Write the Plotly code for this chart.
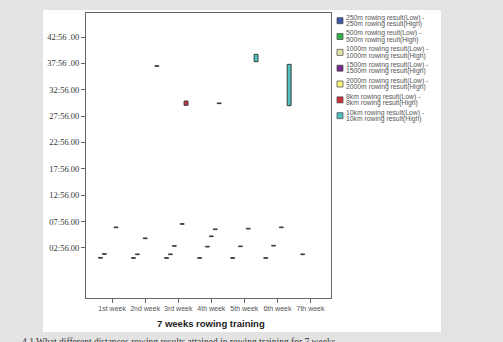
import plotly.graph_objects as go

W, H = 503, 342

weeks = ["1st week", "2nd week", "3rd week", "4th week", "5th week", "6th week", "7th week"]

series_names = ["250m", "500m", "1000m", "1500m", "2000m", "8km", "10km"]
legend_line1 = ["250m rowing result(Low) -", "500m rowing reult(Low) -", "1000m rowing result(Low) -",
                "1500m rowing result(Low) -", "2000m rowing result(Low) -", "8km rowing result(Low) -",
                "10km rowing result(Low) -"]
legend_line2 = ["250m rowing result(High)", "500m rowing reult(High)", "1000m rowing result(High)",
                "1500m rowing result(High)", "2000m rowing result(High)", "8km rowing result(High)",
                "10km rowing result(High)"]
colors = ["#3b58a8", "#2fb34a", "#e0e4a8", "#7a2a8c", "#f4f47a", "#c8323a", "#4fc2c2"]

# values in seconds (low / high) per week; None = not rowed that week
low_250 = [60, 58, 58, 58, 58, 58, None]
high_250 = [68, 66, 66, 66, 66, 66, None]
low_500 = [104, 100, 100, None, None, None, 100]
high_500 = [112, 108, 108, None, None, None, 108]
low_1000 = [None, None, 195, 187, 191, 198, None]
high_1000 = [None, None, 203, 195, 199, 206, None]
low_1500 = [None, 282, None, 305, None, None, None]
high_1500 = [None, 290, None, 313, None, None, None]
low_2000 = [407, None, 445, 385, 392, 407, None]
high_2000 = [415, None, 453, 393, 400, 415, None]
low_8k = [None, None, 1799, 1818, None, None, None]
high_8k = [None, None, 1848, 1826, None, None, None]
low_10k = [None, 2242, None, None, 2295, 1795, None]
high_10k = [None, 2250, None, None, 2379, 2265, None]

lows = [low_250, low_500, low_1000, low_1500, low_2000, low_8k, low_10k]
highs = [high_250, high_500, high_1000, high_1500, high_2000, high_8k, high_10k]

y_tickvals = [176, 476, 776, 1076, 1376, 1676, 1976, 2276, 2576]
y_ticktext = ["02:56.00", "07:56.00", "12:56.00", "17:56.00", "22:56.00",
              "27:56.00", "32:56.00", "37:56 .00", "42:56 .00"]

def px(x):
    return x / W

def py(y):
    return 1 - y / H

fig = go.Figure()
for name, lo, hi, col in zip(series_names, lows, highs, colors):
    heights = [None if (a is None or b is None) else b - a for a, b in zip(lo, hi)]
    fig.add_trace(go.Bar(
        x=weeks, y=heights, base=lo, name=name,
        marker=dict(color=col, line=dict(color="#3a3a3a", width=1)),
        showlegend=False,
    ))

shapes = [
    dict(type="rect", xref="paper", yref="paper", x0=px(43), x1=px(441), y0=py(332), y1=py(10),
         fillcolor="white", line=dict(width=0), layer="below"),
]
annotations = []
cy0, dy = 20.7, 15.83
for i, col in enumerate(colors):
    cy = cy0 + i * dy
    shapes.append(dict(type="rect", xref="paper", yref="paper",
                       x0=px(337), x1=px(343), y0=py(cy + 3), y1=py(cy - 3),
                       fillcolor=col, line=dict(color="#444", width=0.7)))
    annotations.append(dict(xref="paper", yref="paper", x=px(344), y=py(cy - 3.1),
                            xanchor="left", yanchor="middle", showarrow=False,
                            text=legend_line1[i],
                            font=dict(family="Liberation Sans, Arial", size=6.8, color="#555")))
    annotations.append(dict(xref="paper", yref="paper", x=px(344), y=py(cy + 3.3),
                            xanchor="left", yanchor="middle", showarrow=False,
                            text=legend_line2[i],
                            font=dict(family="Liberation Sans, Arial", size=6.8, color="#555")))

annotations.append(dict(xref="paper", yref="paper", x=px(211), y=py(323),
                        xanchor="center", yanchor="middle", showarrow=False,
                        text="<b>7 weeks rowing training</b>",
                        font=dict(family="Liberation Sans, Arial", size=9.5, color="#222")))
annotations.append(dict(xref="paper", yref="paper", x=px(20), y=py(342),
                        xanchor="left", yanchor="middle", showarrow=False,
                        text="4.1 What different distances rowing results attained in rowing training for 7 weeks",
                        font=dict(family="Liberation Serif", size=9.5, color="#333")))

fig.update_layout(
    width=W, height=H,
    margin=dict(l=0, r=0, t=0, b=0),
    paper_bgcolor="#e3e3e3",
    plot_bgcolor="white",
    barmode="group",
    bargap=0.174,
    bargroupgap=0,
    shapes=shapes,
    annotations=annotations,
    xaxis=dict(
        domain=[px(86), px(331)],
        type="category",
        range=[-0.79, 6.62],
        showline=True, mirror=True, linecolor="#666", linewidth=1,
        ticks="outside", ticklen=4, tickcolor="#666",
        showgrid=False, zeroline=False,
        tickfont=dict(family="Liberation Sans, Arial", size=7, color="#555"),
    ),
    yaxis=dict(
        domain=[py(298), py(13)],
        range=[-393, 2849],
        tickvals=y_tickvals, ticktext=y_ticktext,
        showline=True, mirror=True, linecolor="#666", linewidth=1,
        ticks="outside", ticklen=4, tickcolor="#666",
        showgrid=False, zeroline=False,
        tickfont=dict(family="Liberation Serif", size=8.5, color="#333"),
    ),
)

fig.write_html("out.html")
